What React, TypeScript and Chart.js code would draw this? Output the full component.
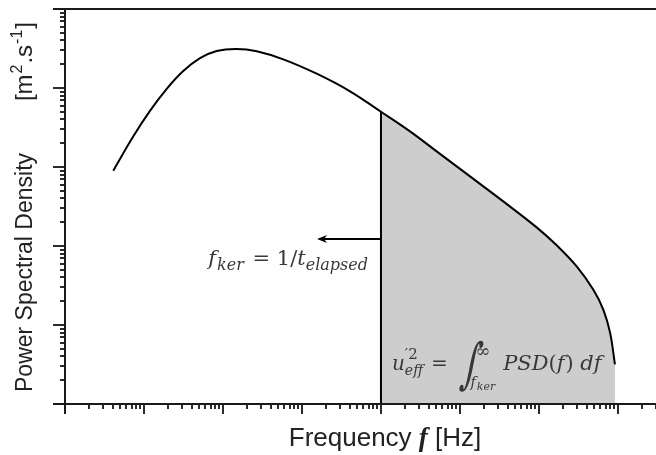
import React, { useEffect, useRef } from "react";
import { Chart, registerables } from "chart.js";

Chart.register(...registerables);

// ---- data (log-log axes) ----
const FREQ_HZ = [
  4.08, 7.33, 11.9, 19.4, 31.4, 51.2, 83.2, 149, 267, 580, 1535, 4055, 10000,
  23300, 50700, 134000, 353000, 935000, 1675000, 3000000, 4860000, 6520000,
  7930000, 9160000,
];
const PSD = [
  897, 2448, 5129, 9750, 16370, 23830, 29380, 31190, 29170, 23070, 15170, 9080,
  5000, 2824, 1575, 760, 367, 172, 102, 55.2, 28.1, 15.7, 8.06, 3.17,
];
const F_KER = 10000; // cut-off frequency (vertical line)
const PSD_AT_F_KER = 5000;
const ARROW_TIP_HZ = 1550;
const ARROW_PSD = 123;

const X_MIN = 1;
const X_MAX = 3.03e7;
const Y_MIN = 1;
const Y_MAX = 1e5;

const X_TITLE_PARTS = ["Frequency ", "f", " [Hz]"];
const Y_TITLE_MAIN = "Power Spectral Density";
const Y_TITLE_UNIT = ["[m", "2", ".s", "-1", "]"];

type Run = { t: string; font: string; dy?: number; gap?: number };

const SERIF = '"DejaVu Serif", "Liberation Serif", serif';
const SANS = '"Liberation Sans", "DejaVu Sans", sans-serif';

function runsWidth(ctx: CanvasRenderingContext2D, runs: Run[]) {
  let w = 0;
  for (const r of runs) {
    ctx.font = r.font;
    w += ctx.measureText(r.t).width + (r.gap || 0);
  }
  return w;
}
function drawRuns(ctx: CanvasRenderingContext2D, runs: Run[], x: number, y: number) {
  let cx = x;
  for (const r of runs) {
    ctx.font = r.font;
    ctx.fillText(r.t, cx, y + (r.dy || 0));
    cx += ctx.measureText(r.t).width + (r.gap || 0);
  }
  return cx;
}

const decoPlugin = {
  id: "deco",
  afterDraw(chart: any) {
    const { ctx, chartArea: a } = chart;
    const xs = chart.scales.x;
    const ys = chart.scales.y;
    ctx.save();
    ctx.lineCap = "butt";
    const line = (x1: number, y1: number, x2: number, y2: number) => {
      ctx.beginPath();
      ctx.moveTo(x1, y1);
      ctx.lineTo(x2, y2);
      ctx.stroke();
    };

    // ticks
    ctx.strokeStyle = "#2b2b2b";
    ctx.lineWidth = 2;
    for (let e = -1; e <= 9; e++) {
      for (let m = 1; m <= 9; m++) {
        const v = m * Math.pow(10, e);
        if (v >= X_MIN && v <= X_MAX) {
          const px = Math.round(xs.getPixelForValue(v));
          line(px, a.bottom, px, a.bottom + (m === 1 ? 10 : 5));
        }
        if (v >= Y_MIN && v <= Y_MAX * 1.0001) {
          const py = Math.round(ys.getPixelForValue(v));
          line(a.left - (m === 1 ? 12 : 5), py, a.left, py);
        }
      }
    }
    // spines
    ctx.strokeStyle = "#1a1a1a";
    line(a.left - 12, a.bottom, a.right, a.bottom);
    line(a.left - 12, Math.round(a.top), a.right, Math.round(a.top));
    line(a.left, a.top, a.left, a.bottom + 10);

    // arrow
    const xk = xs.getPixelForValue(F_KER);
    const xt = xs.getPixelForValue(ARROW_TIP_HZ);
    const ya = Math.round(ys.getPixelForValue(ARROW_PSD));
    ctx.strokeStyle = "#000";
    ctx.fillStyle = "#000";
    line(xk, ya, xt + 6, ya);
    ctx.beginPath();
    ctx.moveTo(xt, ya);
    ctx.lineTo(xt + 10, ya - 4);
    ctx.lineTo(xt + 7, ya);
    ctx.lineTo(xt + 10, ya + 4);
    ctx.closePath();
    ctx.fill();

    // f_ker label
    ctx.fillStyle = "#383838";
    ctx.textBaseline = "alphabetic";
    const big = `italic 21px ${SERIF}`;
    const bigR = `21px ${SERIF}`;
    const sub = `italic 16px ${SERIF}`;
    const lab: Run[] = [
      { t: "f", font: big, gap: 1 },
      { t: "ker", font: sub, dy: 5, gap: 2 },
      { t: " = 1/", font: bigR },
      { t: "t", font: big },
      { t: "elapsed", font: sub, dy: 5 },
    ];
    const lw = runsWidth(ctx, lab);
    drawRuns(ctx, lab, xk - 13 - lw, ya + 26);

    // integral label
    let cx = xk + 11;
    const by = a.bottom - 34;
    ctx.font = `italic 20px ${SERIF}`;
    ctx.fillText("u", cx, by);
    cx += ctx.measureText("u").width;
    ctx.font = `15px ${SERIF}`;
    ctx.fillText("\u20322", cx, by - 11);
    const w1 = ctx.measureText("\u20322").width;
    ctx.font = `italic 14px ${SERIF}`;
    ctx.fillText("eff", cx, by + 5);
    const w2 = ctx.measureText("eff").width;
    cx += Math.max(w1, w2) + 8;
    ctx.font = `20px ${SERIF}`;
    ctx.fillText("=", cx, by);
    cx += ctx.measureText("=").width + 8;
    // integral sign
    ctx.save();
    ctx.translate(cx + 4, by + 12);
    ctx.transform(1, 0, -0.18, 1, 0, 0);
    ctx.scale(1, 1.6);
    ctx.font = `34px ${SERIF}`;
    ctx.fillText("\u222B", 0, 0);
    const wi = ctx.measureText("\u222B").width;
    ctx.restore();
    ctx.font = `18px ${SERIF}`;
    ctx.fillText("\u221E", cx + wi + 2, by - 13);
    const winf = ctx.measureText("\u221E").width;
    const lower = drawRuns(
      ctx,
      [
        { t: "f", font: `italic 14px ${SERIF}`, gap: 1 },
        { t: "ker", font: `italic 11px ${SERIF}`, dy: 3 },
      ],
      cx + wi - 3,
      by + 17
    );
    cx = Math.max(cx + wi + winf + 2, lower) + 8;
    drawRuns(
      ctx,
      [
        { t: "PSD", font: big },
        { t: "(", font: bigR },
        { t: "f", font: big, gap: 1 },
        { t: ")", font: bigR },
        { t: " ", font: bigR },
        { t: "df", font: big },
      ],
      cx,
      by
    );

    // x title
    ctx.fillStyle = "#222";
    const xr: Run[] = [
      { t: X_TITLE_PARTS[0], font: `26px ${SANS}` },
      { t: X_TITLE_PARTS[1], font: `bold italic 27px "Liberation Serif", serif` },
      { t: X_TITLE_PARTS[2], font: `26px ${SANS}` },
    ];
    const xw = runsWidth(ctx, xr);
    drawRuns(ctx, xr, 385 - xw / 2, 446);

    // y title (rotated)
    ctx.save();
    ctx.translate(32, 0);
    ctx.rotate(-Math.PI / 2);
    ctx.font = `23px ${SANS}`;
    ctx.fillText(Y_TITLE_MAIN, -392, 0);
    const ur: Run[] = [
      { t: Y_TITLE_UNIT[0], font: `24px ${SANS}`, gap: 1 },
      { t: Y_TITLE_UNIT[1], font: `16px ${SANS}`, dy: -10, gap: 1 },
      { t: Y_TITLE_UNIT[2], font: `24px ${SANS}`, gap: 1 },
      { t: Y_TITLE_UNIT[3], font: `16px ${SANS}`, dy: -10, gap: 1 },
      { t: Y_TITLE_UNIT[4], font: `24px ${SANS}` },
    ];
    const uw = runsWidth(ctx, ur);
    drawRuns(ctx, ur, -22 - uw, 0);
    ctx.restore();

    ctx.restore();
  },
};

export default function App() {
  const ref = useRef<HTMLCanvasElement | null>(null);
  useEffect(() => {
    if (!ref.current) return;
    const curve = FREQ_HZ.map((f, i) => ({ x: f, y: PSD[i] }));
    const tail = curve.filter((p) => p.x >= F_KER);
    const chart = new Chart(ref.current, {
      type: "line",
      data: {
        datasets: [
          {
            data: curve,
            borderColor: "#000",
            borderWidth: 2,
            pointRadius: 0,
            tension: 0.4,
            fill: false,
          },
          {
            data: [
              { x: F_KER, y: Y_MIN },
              { x: F_KER, y: PSD_AT_F_KER },
            ],
            borderColor: "#000",
            borderWidth: 2,
            pointRadius: 0,
            fill: false,
          },
          {
            data: tail,
            borderWidth: 0,
            borderColor: "rgba(0,0,0,0)",
            backgroundColor: "#cdcdcd",
            pointRadius: 0,
            tension: 0.4,
            fill: "start",
          },
        ],
      },
      options: {
        responsive: false,
        animation: false,
        devicePixelRatio: 1,
        layout: { padding: { left: 65, top: 9, right: 0, bottom: 51 } },
        plugins: { legend: { display: false }, tooltip: { enabled: false } },
        scales: {
          x: { type: "logarithmic", min: X_MIN, max: X_MAX, display: false },
          y: { type: "logarithmic", min: Y_MIN, max: Y_MAX, display: false },
        },
      },
      plugins: [decoPlugin],
    });
    return () => chart.destroy();
  }, []);
  return (
    <div style={{ position: "fixed", left: 0, top: 0, width: 656, height: 455, background: "#fff" }}>
      <canvas ref={ref} width={656} height={455} />
    </div>
  );
}
